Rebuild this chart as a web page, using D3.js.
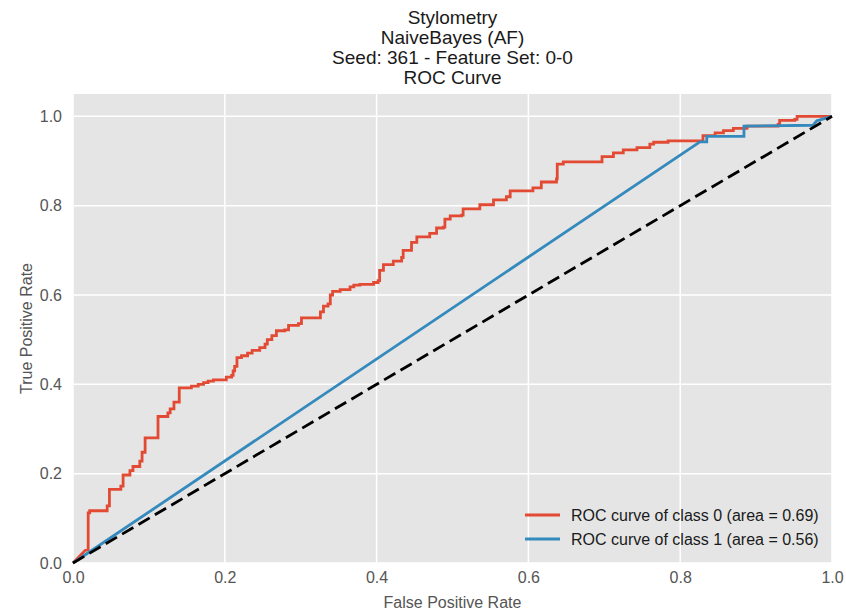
<!DOCTYPE html>
<html>
<head>
<meta charset="utf-8">
<script src="https://cdn.jsdelivr.net/npm/d3@7"></script>
<style>
  html, body { margin: 0; padding: 0; background: #fff; }
  svg { display: block; font-family: "Liberation Sans", Arial, sans-serif; }
</style>
</head>
<body>
<svg id="chart" width="846" height="615"></svg>
<script>
// ROC curve, class 0 (step vertices: false positive rate / true positive rate)
const class0Fpr = [0.000, 0.016, 0.020, 0.020, 0.022, 0.045, 0.045, 0.048, 0.048, 0.061, 0.063, 0.066, 0.066, 0.073, 0.075, 0.079, 0.079, 0.088, 0.088, 0.091, 0.091, 0.095, 0.095, 0.110, 0.112, 0.112, 0.125, 0.128, 0.128, 0.133, 0.133, 0.138, 0.140, 0.150, 0.156, 0.165, 0.172, 0.178, 0.185, 0.198, 0.202, 0.209, 0.211, 0.213, 0.216, 0.216, 0.222, 0.230, 0.236, 0.244, 0.246, 0.253, 0.256, 0.262, 0.268, 0.279, 0.284, 0.297, 0.301, 0.323, 0.326, 0.330, 0.336, 0.339, 0.342, 0.352, 0.365, 0.370, 0.378, 0.396, 0.402, 0.404, 0.409, 0.422, 0.433, 0.435, 0.446, 0.453, 0.470, 0.479, 0.488, 0.490, 0.497, 0.512, 0.514, 0.536, 0.554, 0.571, 0.576, 0.596, 0.606, 0.617, 0.637, 0.638, 0.646, 0.692, 0.697, 0.712, 0.725, 0.738, 0.743, 0.760, 0.765, 0.784, 0.826, 0.830, 0.846, 0.857, 0.870, 0.888, 0.929, 0.931, 0.951, 0.954, 1.000];
const class0Tpr = [0.000, 0.028, 0.030, 0.112, 0.117, 0.117, 0.128, 0.128, 0.165, 0.165, 0.172, 0.172, 0.197, 0.197, 0.207, 0.207, 0.216, 0.216, 0.228, 0.228, 0.248, 0.248, 0.280, 0.280, 0.290, 0.328, 0.336, 0.336, 0.345, 0.345, 0.360, 0.360, 0.392, 0.392, 0.396, 0.400, 0.404, 0.407, 0.410, 0.410, 0.416, 0.420, 0.430, 0.440, 0.448, 0.460, 0.464, 0.470, 0.476, 0.476, 0.482, 0.490, 0.500, 0.509, 0.520, 0.522, 0.532, 0.536, 0.549, 0.549, 0.562, 0.575, 0.580, 0.600, 0.608, 0.612, 0.618, 0.622, 0.624, 0.628, 0.632, 0.655, 0.668, 0.676, 0.684, 0.700, 0.718, 0.730, 0.738, 0.750, 0.752, 0.770, 0.777, 0.779, 0.793, 0.802, 0.813, 0.820, 0.833, 0.833, 0.840, 0.853, 0.860, 0.893, 0.898, 0.898, 0.910, 0.918, 0.925, 0.925, 0.930, 0.938, 0.942, 0.945, 0.945, 0.957, 0.963, 0.968, 0.973, 0.978, 0.982, 0.991, 0.993, 1.000, 1.000];

// ROC curve, class 1
const class1Fpr = [0.000, 0.826, 0.835, 0.835, 0.884, 0.884, 0.975, 0.980, 1.000];
const class1Tpr = [0.000, 0.943, 0.943, 0.955, 0.955, 0.978, 0.980, 0.990, 1.000];

const legendLabels = ["ROC curve of class 0 (area = 0.69)", "ROC curve of class 1 (area = 0.56)"];
const titleLines = ["Stylometry", "NaiveBayes (AF)", "Seed: 361 - Feature Set: 0-0", "ROC Curve"];
const tickValues = [0.0, 0.2, 0.4, 0.6, 0.8, 1.0];

const svg = d3.select("#chart");
const plotLeft = 73, plotRight = 832, plotTop = 94, plotBottom = 563;

const x = d3.scaleLinear().domain([0, 1]).range([plotLeft, plotRight]);
const y = d3.scaleLinear().domain([0, 1.05]).range([plotBottom, plotTop]);

// panel background
svg.append("rect")
  .attr("x", plotLeft).attr("y", plotTop)
  .attr("width", plotRight - plotLeft).attr("height", plotBottom - plotTop)
  .attr("fill", "#E5E5E5");

// grid lines
const grid = svg.append("g").attr("stroke", "#ffffff").attr("stroke-width", 1.5);
grid.selectAll("line.v").data(tickValues).join("line").attr("class", "v")
  .attr("x1", d => x(d)).attr("x2", d => x(d))
  .attr("y1", plotTop).attr("y2", plotBottom);
grid.selectAll("line.h").data(tickValues).join("line").attr("class", "h")
  .attr("y1", d => y(d)).attr("y2", d => y(d))
  .attr("x1", plotLeft).attr("x2", plotRight);

// axes (labels only, no domain line or tick marks)
const fmt = d3.format(".1f");
const xAxis = svg.append("g")
  .attr("transform", `translate(0,${plotBottom})`)
  .call(d3.axisBottom(x).tickValues(tickValues).tickFormat(fmt).tickSize(0).tickPadding(9));
const yAxis = svg.append("g")
  .attr("transform", `translate(${plotLeft},0)`)
  .call(d3.axisLeft(y).tickValues(tickValues).tickFormat(fmt).tickSize(0).tickPadding(11));
[xAxis, yAxis].forEach(a => {
  a.select(".domain").remove();
  a.selectAll("text")
    .attr("font-family", "Liberation Sans, Arial, sans-serif")
    .attr("font-size", 16).attr("fill", "#555555");
});

// curves: the first rise from the origin is a straight segment, the rest is a staircase
const pts0 = class0Fpr.map((f, i) => [f, class0Tpr[i]]);
const pts1 = class1Fpr.map((f, i) => [f, class1Tpr[i]]);

const stepLine = d3.line().x(d => x(d[0])).y(d => y(d[1])).curve(d3.curveStepAfter);
const straightLine = d3.line().x(d => x(d[0])).y(d => y(d[1]));

const plot = svg.append("g");

plot.append("path")
  .attr("d", straightLine(pts0.slice(0, 3)) + stepLine(pts0.slice(2)).replace(/^M/, "L"))
  .attr("fill", "none").attr("stroke", "#E24A33")
  .attr("stroke-width", 2.8).attr("stroke-linejoin", "miter");

plot.append("path").datum(pts1)
  .attr("d", straightLine)
  .attr("fill", "none").attr("stroke", "#348ABD")
  .attr("stroke-width", 2.8);

plot.append("path").datum([[0, 0], [1, 1]])
  .attr("d", straightLine)
  .attr("fill", "none").attr("stroke", "#000000")
  .attr("stroke-width", 2.8).attr("stroke-dasharray", "13,6");

// title
svg.append("g").selectAll("text").data(titleLines).join("text")
  .attr("x", (plotLeft + plotRight) / 2)
  .attr("y", (d, i) => 24 + i * 20)
  .attr("text-anchor", "middle")
  .attr("font-size", 19)
  .attr("fill", "#1a1a1a")
  .text(d => d);

// axis labels
svg.append("text")
  .attr("x", (plotLeft + plotRight) / 2).attr("y", 608)
  .attr("text-anchor", "middle")
  .attr("font-size", 16).attr("fill", "#555555")
  .text("False Positive Rate");
svg.append("text")
  .attr("transform", `translate(32,${(plotTop + plotBottom) / 2}) rotate(-90)`)
  .attr("text-anchor", "middle")
  .attr("font-size", 16).attr("fill", "#555555")
  .text("True Positive Rate");

// legend
const legendColors = ["#E24A33", "#348ABD"];
const legend = svg.append("g");
legendLabels.forEach((lab, i) => {
  const ly = 515 + i * 24;
  legend.append("line")
    .attr("x1", 525).attr("x2", 560).attr("y1", ly).attr("y2", ly)
    .attr("stroke", legendColors[i]).attr("stroke-width", 2.8);
  legend.append("text")
    .attr("x", 571).attr("y", ly + 5.5)
    .attr("font-size", 16).attr("fill", "#1a1a1a")
    .text(lab);
});
</script>
</body>
</html>
